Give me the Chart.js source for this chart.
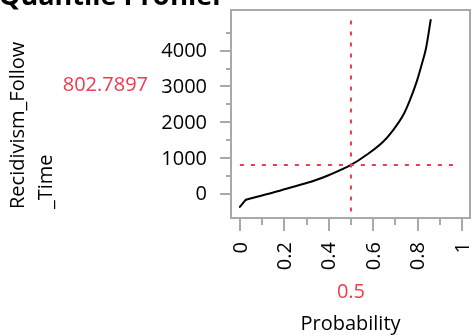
<!DOCTYPE html>
<html>
<head>
<meta charset="utf-8">
<script src="https://cdn.jsdelivr.net/npm/chart.js@4.4.1/dist/chart.umd.min.js"></script>
<style>
  html, body { margin: 0; padding: 0; background: #fff; }
  #wrap { width: 472px; height: 336px; }
</style>
</head>
<body>
<div id="wrap"><canvas id="profiler" width="472" height="336"></canvas></div>
<script>
// quantile function of the follow-up time
const probability = [0, 0.027, 0.1, 0.18, 0.25, 0.33, 0.405, 0.5, 0.571, 0.646, 0.691, 0.736, 0.766, 0.796, 0.818, 0.838, 0.859];
const quantile = [-370, -168, -48, 84, 210, 355, 531, 803, 1089, 1461, 1788, 2207, 2626, 3137, 3603, 4070, 4860];

// current setting of the profiler
const currentProbability = 0.5;
const currentQuantile = 802.7897;
const guideProbRange = [0, 0.97];
const guideQuantRange = [-500, 4860];

// axis ticks: labelled majors, unlabelled minors
const xMajorTicks = [0, 0.2, 0.4, 0.6, 0.8, 1];
const xMinorTicks = [0.1, 0.3, 0.5, 0.7, 0.9];
const yMajorTicks = [0, 1000, 2000, 3000, 4000];
const yMinorTicks = [500, 1500, 2500, 3500, 4500];

const yLabelLines = ['Recidivism_Follow', '_Time'];
const xLabel = 'Probability';
const title = 'Quantile Profiler';

const red = '#ee3a4f';
const frameGray = '#a9a9a9';
const fontFamily = "'Open Sans', 'Noto Sans', sans-serif";

Chart.defaults.font.family = fontFamily;
Chart.defaults.font.size = 20;
Chart.defaults.color = '#000';

const points = probability.map((p, i) => ({ x: p, y: quantile[i] }));

const tickList = (major, minor) => [
  ...major.map(v => ({ value: v, major: true })),
  ...minor.map(v => ({ value: v, major: false })),
];

const profilerDecor = {
  id: 'profilerDecor',
  afterDraw(chart) {
    const { ctx, chartArea: area, scales: { x, y } } = chart;
    ctx.save();

    // frame and tick marks
    ctx.strokeStyle = frameGray;
    ctx.lineWidth = 2;
    ctx.strokeRect(area.left, area.top, area.right - area.left, area.bottom - area.top);
    ctx.beginPath();
    y.ticks.forEach(t => {
      const py = Math.round(y.getPixelForValue(t.value));
      const len = t.major ? 11 : 5;
      ctx.moveTo(area.left, py);
      ctx.lineTo(area.left - len, py);
    });
    x.ticks.forEach(t => {
      const px = Math.round(x.getPixelForValue(t.value));
      const len = t.major ? 13 : 7;
      ctx.moveTo(px, area.bottom);
      ctx.lineTo(px, area.bottom + len);
    });
    ctx.stroke();

    // tick labels
    ctx.fillStyle = '#000';
    ctx.font = '20px ' + fontFamily;
    ctx.textAlign = 'right';
    ctx.textBaseline = 'middle';
    y.ticks.filter(t => t.major).forEach(t => {
      ctx.fillText(String(t.value), area.left - 24, y.getPixelForValue(t.value) + 1);
    });
    x.ticks.filter(t => t.major).forEach(t => {
      ctx.save();
      ctx.translate(x.getPixelForValue(t.value) + 1, area.bottom + 24);
      ctx.rotate(-Math.PI / 2);
      ctx.fillText(String(t.value), 0, 0);
      ctx.restore();
    });

    // title, cut by the top edge
    ctx.font = 'bold 27px ' + fontFamily;
    ctx.textAlign = 'left';
    ctx.textBaseline = 'alphabetic';
    ctx.fillText(title, -1, 5);

    // y axis name, two rotated lines
    ctx.font = '20px ' + fontFamily;
    ctx.save();
    ctx.translate(0, 209);
    ctx.rotate(-Math.PI / 2);
    ctx.textBaseline = 'middle';
    ctx.fillText(yLabelLines[0], 0, 18);
    ctx.fillText(yLabelLines[1], 0, 46);
    ctx.restore();

    // current values
    ctx.fillStyle = red;
    ctx.textAlign = 'right';
    ctx.textBaseline = 'middle';
    ctx.fillText(currentQuantile.toFixed(4), 148, 85);
    ctx.textAlign = 'center';
    ctx.fillText(String(currentProbability), x.getPixelForValue(currentProbability), 292);

    ctx.fillStyle = '#000';
    ctx.fillText(xLabel, (area.left + area.right) / 2, 324);
    ctx.restore();
  }
};

const guide = (data) => ({
  data,
  showLine: true,
  borderColor: red,
  borderWidth: 2,
  borderDash: [4, 7],
  pointRadius: 0,
});

new Chart(document.getElementById('profiler'), {
  type: 'scatter',
  data: {
    datasets: [
      guide([{ x: currentProbability, y: guideQuantRange[0] }, { x: currentProbability, y: guideQuantRange[1] }]),
      guide([{ x: guideProbRange[0], y: currentQuantile }, { x: guideProbRange[1], y: currentQuantile }]),
      // short straight kink at the very bottom of the curve
      {
        data: points.slice(0, 2),
        showLine: true,
        borderColor: '#000',
        borderWidth: 2,
        borderCapStyle: 'round',
        pointRadius: 0,
      },
      {
        data: points.slice(1),
        showLine: true,
        borderColor: '#000',
        borderWidth: 2,
        borderCapStyle: 'round',
        cubicInterpolationMode: 'monotone',
        pointRadius: 0,
      },
    ],
  },
  options: {
    responsive: false,
    animation: false,
    layout: { padding: { top: 10, right: 2, left: 0, bottom: 0 } },
    plugins: {
      legend: { display: false },
      tooltip: { enabled: false },
    },
    scales: {
      x: {
        type: 'linear',
        min: -0.04,
        max: 1.036,
        grid: { display: false },
        border: { display: false },
        ticks: { display: false },
        afterBuildTicks: s => { s.ticks = tickList(xMajorTicks, xMinorTicks); },
        afterFit: s => { s.height = 118; },
      },
      y: {
        min: -680,
        max: 5140,
        grid: { display: false },
        border: { display: false },
        ticks: { display: false },
        afterBuildTicks: s => { s.ticks = tickList(yMajorTicks, yMinorTicks); },
        afterFit: s => { s.width = 231; },
      },
    },
  },
  plugins: [profilerDecor],
});
</script>
</body>
</html>
